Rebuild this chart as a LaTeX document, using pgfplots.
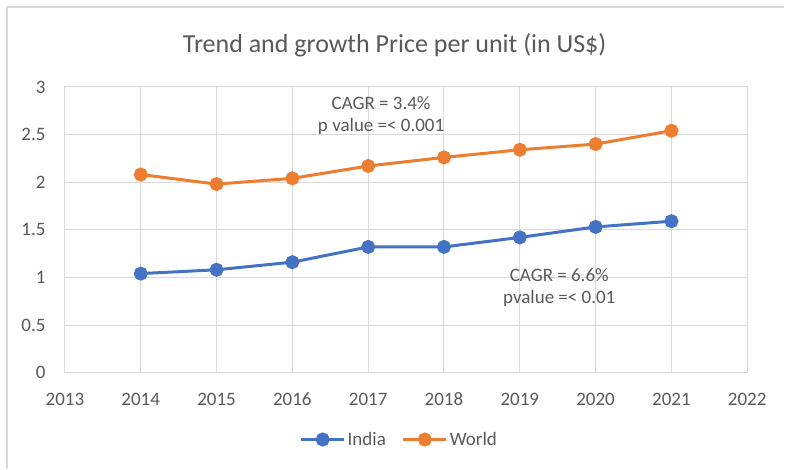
\documentclass[border=0pt]{standalone}
\usepackage{fontspec}
\setmainfont{Carlito}
\usepackage{pgfplots}
\pgfplotsset{compat=1.18}
\definecolor{indblue}{HTML}{4472C4}
\definecolor{worange}{HTML}{ED7D31}
\definecolor{txt}{HTML}{595959}
\definecolor{grd}{HTML}{D9D9D9}
\begin{document}
\begin{tikzpicture}[x=1pt,y=1pt]
\fill[white] (0,0) rectangle (785,469);
\draw[grd, line width=1.5pt] (7,0) -- (7,462) -- (785,462);
\node[txt, font=\fontsize{26}{30}\selectfont] at (395,424) {Trend and growth Price per unit (in US\$)};
\begin{axis}[
  at={(65pt,96pt)}, anchor=origin,
  scale only axis, width=683pt, height=286pt,
  xmin=2013, xmax=2022, ymin=0, ymax=3,
  xtick={2013,...,2022}, ytick={0,0.5,...,3},
  xticklabel style={/pgf/number format/1000 sep={}, text height=13pt, text depth=0pt},
  /pgf/number format/assume math mode=true,
  yticklabel style={/pgf/number format/fixed},
  xticklabel shift={16pt}, yticklabel shift={16pt},
  tick label style={font=\fontsize{19}{22}\selectfont, text=txt},
  grid=major, grid style={grd, line width=1pt},
  axis line style={grd, line width=1pt},
  major tick length=0pt,
  clip=false,
  legend style={at={(0.49,-0.234)}, anchor=center, draw=none, legend columns=2,
    font=\fontsize{19}{22}\selectfont, text=txt,
    /tikz/every even column/.append style={column sep=14pt}},
  legend cell align=left,
  legend image code/.code={\draw[mark repeat=2, mark phase=2, #1] plot coordinates {(0pt,0pt) (21.5pt,0pt) (43pt,0pt)};},
]
\addplot[indblue, line width=3pt, mark=*, mark size=5.5pt] coordinates {
(2014,1.04) (2015,1.08) (2016,1.16) (2017,1.32) (2018,1.32) (2019,1.42) (2020,1.53) (2021,1.59)};
\addlegendentry{India}
\addplot[worange, line width=3pt, mark=*, mark size=5.5pt] coordinates {
(2014,2.08) (2015,1.98) (2016,2.04) (2017,2.17) (2018,2.26) (2019,2.34) (2020,2.40) (2021,2.54)};
\addlegendentry{World}
\node[txt, font=\fontsize{19}{22}\selectfont] at (axis cs:2017.17,2.83) {CAGR = 3.4\%};
\node[txt, font=\fontsize{19}{22}\selectfont] at (axis cs:2017.17,2.58) {p value =< 0.001};
\node[txt, font=\fontsize{19}{22}\selectfont] at (axis cs:2019.52,1.02) {CAGR = 6.6\%};
\node[txt, font=\fontsize{19}{22}\selectfont] at (axis cs:2019.52,0.78) {pvalue =< 0.01};
\end{axis}
\end{tikzpicture}
\end{document}
